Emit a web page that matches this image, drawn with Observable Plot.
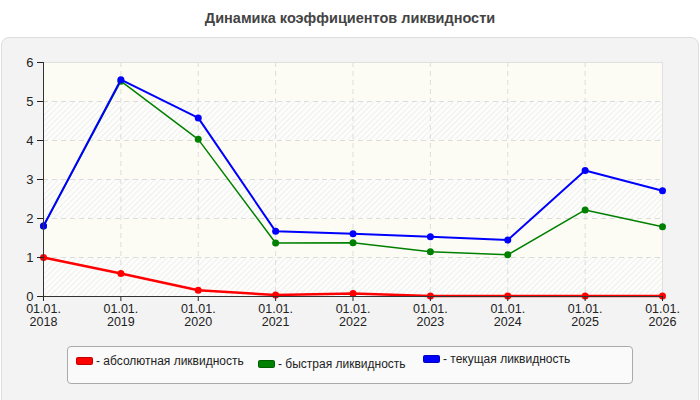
<!DOCTYPE html>
<html><head><meta charset="utf-8">
<script src="https://cdn.jsdelivr.net/npm/d3@7"></script>
<script src="https://cdn.jsdelivr.net/npm/@observablehq/plot@0.6"></script>
<style>
body{margin:0;width:700px;height:400px;background:#fff;font-family:"Liberation Sans",Arial,sans-serif;position:relative;overflow:hidden}
#title{position:absolute;top:10px;left:0;width:700px;text-align:center;font-weight:bold;font-size:14.5px;color:#444}
#panel{position:absolute;left:1px;top:37px;width:696px;height:380px;background:#f3f3f3;border:1px solid #ddd;border-radius:8px}
#chart{position:absolute;left:0;top:0}
#legend{position:absolute;left:67px;top:346px;width:564px;height:36px;background:#fafafa;border:1px solid #aaa;border-radius:4px;font-size:12px;color:#222}
.item{position:absolute;display:flex;align-items:center;white-space:nowrap}
.sw{width:15px;height:6px;border-radius:2px;margin-right:3px;border:1px solid rgba(0,0,0,0.25)}
</style></head><body>
<div id="title">Динамика коэффициентов ликвидности</div>
<div id="panel"></div>
<div id="chart"></div>
<div id="legend"></div>
<script>
const years = [2018, 2019, 2020, 2021, 2022, 2023, 2024, 2025, 2026];
const absolute = [1.00, 0.59, 0.16, 0.04, 0.08, 0.01, 0.01, 0.01, 0.01];
const quick = [1.81, 5.52, 4.03, 1.37, 1.38, 1.15, 1.07, 2.22, 1.79];
const current = [1.81, 5.56, 4.58, 1.67, 1.61, 1.53, 1.45, 3.23, 2.71];
const seriesNames = ["абсолютная ликвидность", "быстрая ликвидность", "текущая ликвидность"];
const seriesColors = ["#ff0000", "#008000", "#0000ff"];
const yTicks = [0, 1, 2, 3, 4, 5, 6];

const series = [absolute, quick, current].map((vals, i) =>
  years.map((y, j) => ({year: y, value: vals[j], name: seriesNames[i]})));
const bands = yTicks.slice(0, -1).map((t, i) => ({y1: t, y2: t + 1, hatched: i % 2 === 0}));
const widths = [2.5, 1.5, 2];

const marks = [
  Plot.rect(bands.filter(d => d.hatched), {y1: "y1", y2: "y2", fill: "url(#hatch)"}),
  Plot.rect(bands.filter(d => !d.hatched), {y1: "y1", y2: "y2", fill: "#fcfcf4"}),
  Plot.gridY(yTicks, {stroke: "#dcdcdc", strokeOpacity: 1, strokeDasharray: "5,4"}),
  Plot.gridX(years, {stroke: "#dcdcdc", strokeOpacity: 1, strokeDasharray: "5,4"}),
  Plot.frame({stroke: "#e0e0e0", anchor: "top"}),
  Plot.frame({stroke: "#e0e0e0", anchor: "right"}),
];
series.forEach((s, i) => {
  marks.push(Plot.line(s, {x: "year", y: "value", stroke: seriesColors[i], strokeWidth: widths[i]}));
  marks.push(Plot.dot(s, {x: "year", y: "value", fill: seriesColors[i], r: 3.5}));
});
marks.push(
  Plot.axisY({ticks: yTicks, tickSize: 6, tickPadding: 4, fontSize: 13, label: null, color: "#222",
    tickFormat: d => String(d)}),
  Plot.ruleX([2018], {stroke: "#333"}),
  Plot.axisX({ticks: years, tickSize: 5, tickPadding: 3, fontSize: 12.5, label: null, color: "#222",
    tickFormat: d => "01.01.\n" + d}),
  Plot.ruleY([0], {stroke: "#333"})
);

const plot = Plot.plot({
  width: 700, height: 345,
  marginLeft: 43, marginRight: 38, marginTop: 62, marginBottom: 49,
  style: {background: "transparent", fontFamily: "'Liberation Sans', Arial, sans-serif", overflow: "visible"},
  x: {domain: [2018, 2026], type: "linear"},
  y: {domain: [0, 6]},
  marks
});
const defs = d3.select(plot).insert("defs", ":first-child");
const pat = defs.append("pattern").attr("id", "hatch").attr("patternUnits", "userSpaceOnUse")
  .attr("width", 4).attr("height", 4).attr("patternTransform", "rotate(45)");
pat.append("rect").attr("width", 4).attr("height", 4).attr("fill", "#fdfdfb");
pat.append("line").attr("x1", 0).attr("y1", 0).attr("x2", 0).attr("y2", 4).attr("stroke", "#e6e6e6").attr("stroke-width", 1.2);
document.getElementById("chart").appendChild(plot);

const lg = document.getElementById("legend");
const pos = [[8, 14], [190, 17], [355, 12]];
seriesNames.forEach((n, i) => {
  const it = document.createElement("div");
  it.className = "item";
  it.style.left = pos[i][0] + "px";
  it.style.top = (pos[i][1] - 7) + "px";
  it.innerHTML = `<span class="sw" style="background:${seriesColors[i]}"></span><span>- ${n}</span>`;
  lg.appendChild(it);
});
</script>
</body></html>
